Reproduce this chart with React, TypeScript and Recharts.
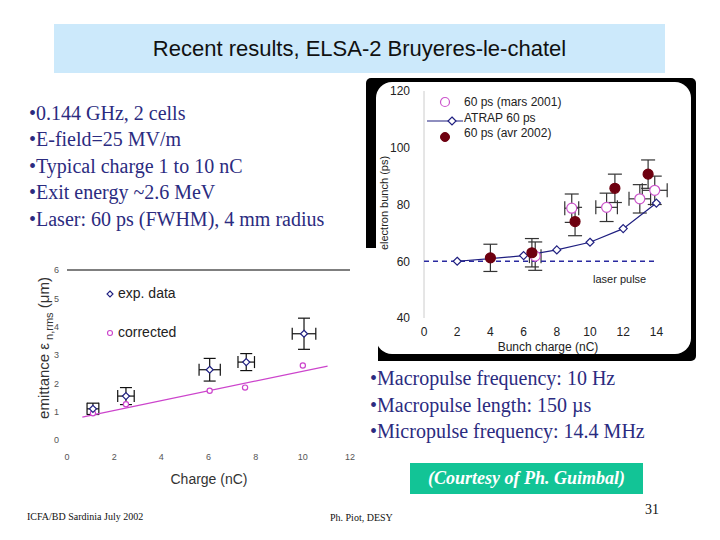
import React from "react";
import { ScatterChart, Scatter, XAxis, YAxis, ErrorBar, ReferenceLine } from "recharts";

// ---- Right chart: electron bunch length vs bunch charge ----
const atrapX = [2, 4, 6, 8, 10, 12, 14];
const atrapY = [60, 60.9, 62, 64, 66.7, 71.5, 80.5];
const laserX = [0, 14];
const laserY = [60, 60];
const marsX = [6.7, 8.9, 11, 13, 13.9];
const marsY = [61.8, 78.7, 79, 82, 85];
const marsEx = [0.35, 0.42, 0.65, 0.65, 0.75];
const marsEy = [5, 5, 5, 5, 5];
const avrX = [4, 6.5, 9.1, 11.5, 13.5];
const avrY = [61.2, 63, 74, 85.7, 90.7];
const avrEy = [4.8, 5, 5, 5, 5];
const bunchXTicks = [0, 2, 4, 6, 8, 10, 12, 14];
const bunchYTicks = [40, 60, 80, 100, 120];

// ---- Left chart: emittance vs charge ----
const expX = [1.1, 2.5, 6.05, 7.6, 10.05];
const expY = [1.1, 1.55, 2.48, 2.75, 3.75];
const expEx = [0.25, 0.35, 0.45, 0.35, 0.5];
const expEy = [0.2, 0.3, 0.4, 0.3, 0.55];
const corrX = [1.1, 2.5, 6.05, 7.55, 10.0];
const corrY = [0.94, 1.26, 1.74, 1.85, 2.63];
const fitX = [0.65, 11.05];
const fitY = [0.81, 2.61];
const emitXTicks = [0, 2, 4, 6, 8, 10, 12];
const emitYTicks = [0, 1, 2, 3, 4, 5, 6];

const leftBullets = [
  "0.144 GHz, 2 cells",
  "E-field=25 MV/m",
  "Typical charge 1 to 10 nC",
  "Exit energy ~2.6 MeV",
  "Laser: 60 ps (FWHM), 4 mm radius",
];
const rightBullets = [
  "Macropulse frequency: 10 Hz",
  "Macropulse length: 150 \u00b5s",
  "Micropulse frequency: 14.4 MHz",
];

const zip = (xs: number[], ys: number[], ex?: number[], ey?: number[]) =>
  xs.map((x, i) => ({ x, y: ys[i], ex: ex ? ex[i] : undefined, ey: ey ? ey[i] : undefined }));

const atrapData = zip(atrapX, atrapY);
const laserData = zip(laserX, laserY);
const marsData = zip(marsX, marsY, marsEx, marsEy);
const avrData = zip(avrX, avrY, undefined, avrEy);
const expData = zip(expX, expY, expEx, expEy);
const corrData = zip(corrX, corrY);
const fitData = zip(fitX, fitY);

const SANS = "'Liberation Sans', Arial, sans-serif";
const SERIF = "'Liberation Serif', 'Times New Roman', serif";
const NAVY = "#1f1f80";
const PINK = "#cc55cc";
const MAROON = "#6e0010";

const diamond = (color: string, r: number) => (p: any) => {
  const { cx, cy } = p;
  if (cx == null || cy == null) return <g />;
  return (
    <path
      d={`M${cx},${cy - r}L${cx + r},${cy}L${cx},${cy + r}L${cx - r},${cy}Z`}
      fill="#fff"
      stroke={color}
      strokeWidth={1.2}
    />
  );
};
const circle = (color: string, r: number, filled: boolean) => (p: any) => {
  const { cx, cy } = p;
  if (cx == null || cy == null) return <g />;
  return <circle cx={cx} cy={cy} r={r} fill={filled ? color : "#fff"} stroke={color} strokeWidth={1.2} />;
};
const none = () => <g />;

const abs = (left: number, top: number, extra: React.CSSProperties = {}): React.CSSProperties => ({
  position: "absolute",
  left,
  top,
  whiteSpace: "nowrap",
  ...extra,
});

export default function App() {
  return (
    <div style={{ position: "absolute", left: 0, top: 0, width: 720, height: 540, background: "#fff", overflow: "hidden" }}>
      {/* Title */}
      <div
        style={abs(54, 24, {
          width: 611,
          height: 49,
          background: "#cce9fb",
          fontFamily: SANS,
          fontSize: 22,
          color: "#111",
          textAlign: "center",
          lineHeight: "49px",
        })}
      >
        Recent results, ELSA-2 Bruyeres-le-chatel
      </div>

      {/* Left bullets */}
      {leftBullets.map((t, i) => (
        <div key={t} style={abs(29, 100 + i * 26.4, { fontFamily: SERIF, fontSize: 20, color: "#2b2b80", lineHeight: "26px" })}>
          {"\u2022" + t}
        </div>
      ))}

      {/* Right chart frame */}
      <div style={abs(366, 78, { width: 330, height: 283, background: "#000", borderRadius: 5 })} />
      <div style={abs(376, 82, { width: 315, height: 272, background: "#fff", borderRadius: 16 })} />

      <div style={abs(368, 80)}>
        <ScatterChart width={326} height={275} margin={{ top: 11, right: 21, bottom: 7, left: 16 }}>
          <XAxis
            type="number"
            dataKey="x"
            domain={[0, 15]}
            ticks={bunchXTicks}
            axisLine={false}
            tickLine={false}
            height={30}
            tick={{ fontSize: 12, fill: "#222", fontFamily: SANS }}
            tickMargin={3}
          />
          <YAxis
            type="number"
            dataKey="y"
            domain={[40, 120]}
            ticks={bunchYTicks}
            width={40}
            axisLine={{ stroke: "#ccc" }}
            tickLine={false}
            tick={{ fontSize: 12, fill: "#222", fontFamily: SANS }}
            tickMargin={8}
          />
          <Scatter
            data={laserData}
            isAnimationActive={false}
            shape={none}
            line={{ stroke: "#2a2aa0", strokeWidth: 1.5, strokeDasharray: "5 4" }}
            lineType="joint"
          />
          <Scatter
            data={atrapData}
            isAnimationActive={false}
            shape={diamond(NAVY, 4)}
            line={{ stroke: NAVY, strokeWidth: 1.2 }}
            lineType="joint"
          />
          <Scatter data={marsData} isAnimationActive={false} shape={circle(PINK, 5, false)}>
            <ErrorBar dataKey="ey" direction="y" width={7} stroke="#333" strokeWidth={1.2} />
            <ErrorBar dataKey="ex" direction="x" width={7} stroke="#333" strokeWidth={1.2} />
          </Scatter>
          <Scatter data={avrData} isAnimationActive={false} shape={circle(MAROON, 5, true)}>
            <ErrorBar dataKey="ey" direction="y" width={7} stroke="#333" strokeWidth={1.2} />
          </Scatter>
        </ScatterChart>
      </div>

      {/* Right chart texts */}
      <div
        style={abs(384, 203, {
          fontFamily: SANS,
          fontSize: 11,
          color: "#222",
          transform: "translate(-50%, -50%) rotate(-90deg)",
        })}
      >
        electron bunch (ps)
      </div>
      <div style={abs(548, 340, { fontFamily: SANS, fontSize: 12, color: "#222", transform: "translateX(-50%)" })}>
        Bunch charge (nC)
      </div>
      <div style={abs(593, 273, { fontFamily: SANS, fontSize: 11, color: "#222" })}>laser pulse</div>
      <svg style={abs(425, 96)} width={40} height={50}>
        <circle cx={20} cy={6} r={4.5} fill="#fff" stroke={PINK} strokeWidth={1.2} />
        <line x1={2} y1={25} x2={38} y2={25} stroke={NAVY} strokeWidth={1.2} />
        <path d="M27,21L31,25L27,29L23,25Z" fill="#fff" stroke={NAVY} strokeWidth={1.2} />
        <circle cx={20} cy={41} r={4.5} fill={MAROON} stroke={MAROON} />
      </svg>
      {["60 ps (mars 2001)", "ATRAP 60 ps", "60 ps (avr 2002)"].map((t, i) => (
        <div key={t} style={abs(464, 95 + i * 15.5, { fontFamily: SANS, fontSize: 12, color: "#222", lineHeight: "15px" })}>
          {t}
        </div>
      ))}

      {/* Left chart background */}
      <div style={abs(30, 248, { width: 348, height: 246, background: "#fff" })} />
      <div style={abs(30, 258)}>
        <ScatterChart width={330} height={215} margin={{ top: 12, right: 10, bottom: 8, left: 17 }}>
          <XAxis
            type="number"
            dataKey="x"
            domain={[0, 12]}
            ticks={emitXTicks}
            axisLine={false}
            tickLine={false}
            height={25}
            tick={{ fontSize: 9, fill: "#555", fontFamily: SANS }}
            tickMargin={8}
          />
          <YAxis
            type="number"
            dataKey="y"
            domain={[0, 6]}
            ticks={emitYTicks}
            width={20}
            axisLine={false}
            tickLine={false}
            tick={{ fontSize: 9, fill: "#555", fontFamily: SANS }}
            tickMargin={2}
          />
          <ReferenceLine y={6} stroke="#000" strokeWidth={1.2} />
          <Scatter
            data={fitData}
            isAnimationActive={false}
            shape={none}
            line={{ stroke: "#cc44cc", strokeWidth: 1.2 }}
            lineType="joint"
          />
          <Scatter data={corrData} isAnimationActive={false} shape={circle("#cc44cc", 2.6, false)} />
          <Scatter data={expData} isAnimationActive={false} shape={diamond(NAVY, 3.5)}>
            <ErrorBar dataKey="ey" direction="y" width={6} stroke="#111" strokeWidth={1.2} />
            <ErrorBar dataKey="ex" direction="x" width={6} stroke="#111" strokeWidth={1.2} />
          </Scatter>
        </ScatterChart>
      </div>

      {/* Left chart texts */}
      <div
        style={abs(45, 348, {
          fontFamily: SANS,
          fontSize: 15,
          color: "#333",
          transform: "translate(-50%, -50%) rotate(-90deg)",
        })}
      >
        emittance ε<sub style={{ fontSize: 11 }}> n,rms</sub> (μm)
      </div>
      <div style={abs(209, 471, { fontFamily: SANS, fontSize: 14, color: "#333", transform: "translateX(-50%)" })}>
        Charge (nC)
      </div>
      <svg style={abs(104, 288)} width={12} height={50}>
        <path d="M6,3L9,6L6,9L3,6Z" fill="#fff" stroke={NAVY} strokeWidth={1.1} />
        <circle cx={6} cy={45} r={2.5} fill="#fff" stroke="#cc44cc" strokeWidth={1.1} />
      </svg>
      <div style={abs(118, 285, { fontFamily: SANS, fontSize: 14, color: "#222" })}>exp. data</div>
      <div style={abs(118, 324, { fontFamily: SANS, fontSize: 14, color: "#222" })}>corrected</div>

      {/* Right bullets */}
      {rightBullets.map((t, i) => (
        <div key={t} style={abs(370, 365 + i * 26.7, { fontFamily: SERIF, fontSize: 20, color: "#2b2b80", lineHeight: "26px" })}>
          {"\u2022" + t}
        </div>
      ))}

      {/* Courtesy box */}
      <div
        style={abs(410, 463, {
          width: 233,
          height: 31,
          background: "#12c496",
          color: "#fff",
          fontFamily: SERIF,
          fontWeight: "bold",
          fontStyle: "italic",
          fontSize: 18,
          textAlign: "center",
          lineHeight: "31px",
        })}
      >
        (Courtesy of Ph. Guimbal)
      </div>

      {/* Footer */}
      <div style={abs(27, 511, { fontFamily: SERIF, fontSize: 10, color: "#111" })}>ICFA/BD Sardinia July 2002</div>
      <div style={abs(330, 512, { fontFamily: SERIF, fontSize: 10, color: "#111" })}>Ph. Piot, DESY</div>
      <div style={abs(645, 502, { fontFamily: SERIF, fontSize: 14, color: "#111" })}>31</div>
    </div>
  );
}
